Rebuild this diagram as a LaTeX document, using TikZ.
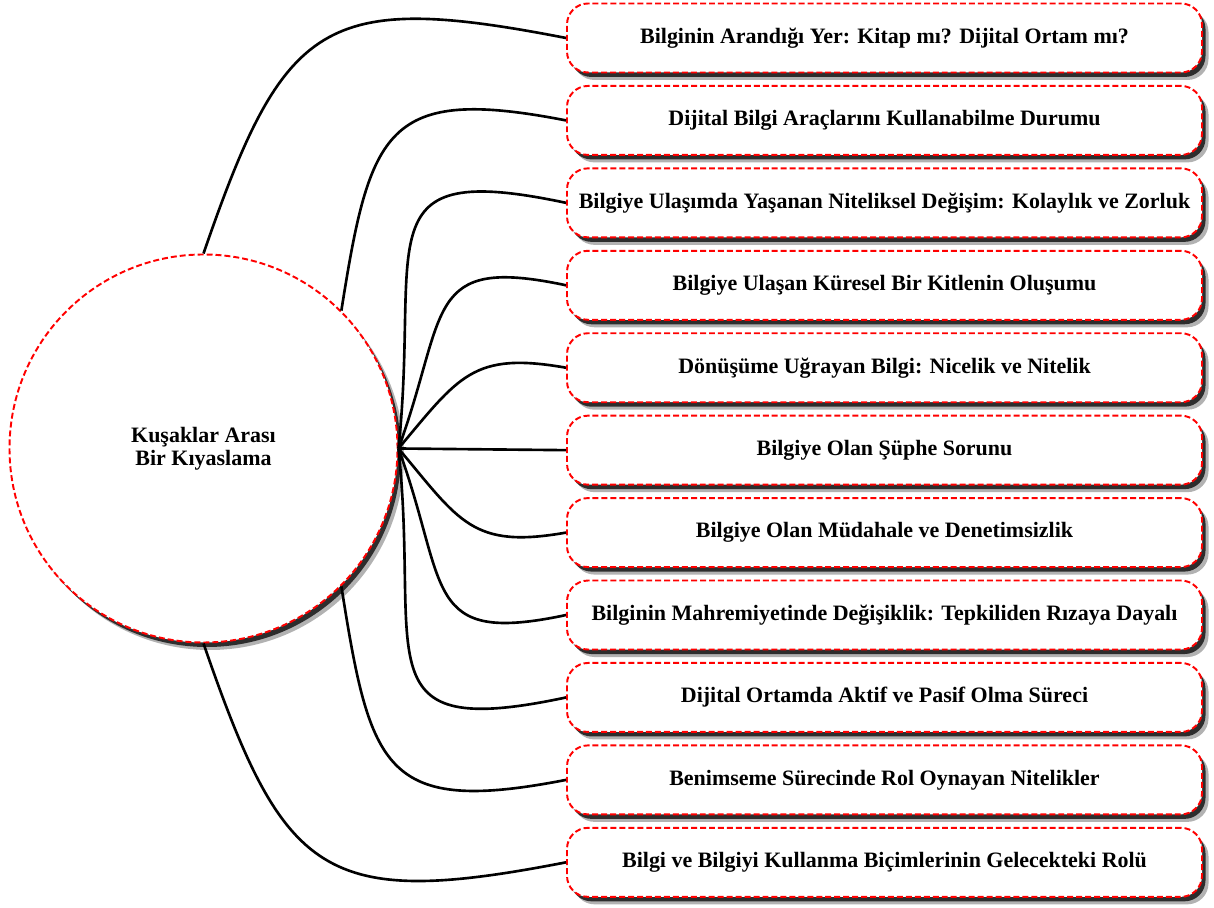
\documentclass[tikz,border=0pt]{standalone}
\usepackage{fontspec}
\setmainfont{Liberation Serif}
\usetikzlibrary{positioning,shadows}

\tikzset{
    softshadow/.style={
        drop shadow={shadow xshift=0.13cm, shadow yshift=-0.15cm, opacity=0.3, fill=black},
        drop shadow={shadow xshift=0.07cm, shadow yshift=-0.09cm, opacity=0.75, fill=black}
    }
}

\begin{document}
\begin{tikzpicture}[
        node distance=0.23cm,
        topic/.style={rectangle, draw=red, line width=1.1pt, dash pattern=on 3.4pt off 1.7pt, rounded corners=0.42cm, fill=white, minimum width=12.7cm, minimum height=1.38cm, text centered, font=\bfseries\fontsize{12.5}{15}\selectfont, softshadow},
        hub/.style={circle, draw=red, line width=1.1pt, dash pattern=on 3.4pt off 1.7pt, fill=white, minimum size=7.76cm, align=center, font=\bfseries\fontsize{12.5}{13}\selectfont, softshadow},
        link/.style={line width=1.5pt}
    ]
        \useasboundingbox (0,0) rectangle (24.28,18.16);

        % Center circle
        \node[hub] (kiyas) at (4.07,9.19) {Kuşaklar Arası\\ Bir Kıyaslama};

        % Topic boxes
        \node[topic] (kitap) at (17.69,17.4) {Bilginin Arandığı Yer: Kitap mı? Dijital Ortam mı?};
        \node[topic, below=of kitap] (araclar) {Dijital Bilgi Araçlarını Kullanabilme Durumu};
        \node[topic, below=of araclar] (nitelik) {Bilgiye Ulaşımda Yaşanan Niteliksel Değişim: Kolaylık ve Zorluk};
        \node[topic, below=of nitelik] (kitle) {Bilgiye Ulaşan Küresel Bir Kitlenin Oluşumu};
        \node[topic, below=of kitle] (donusum) {Dönüşüme Uğrayan Bilgi: Nicelik ve Nitelik};
        \node[topic, below=of donusum] (suphe) {Bilgiye Olan Şüphe Sorunu};
        \node[topic, below=of suphe] (mudahale) {Bilgiye Olan Müdahale ve Denetimsizlik};
        \node[topic, below=of mudahale] (mahremiyet) {Bilginin Mahremiyetinde Değişiklik: Tepkiliden Rızaya Dayalı};
        \node[topic, below=of mahremiyet] (aktif) {Dijital Ortamda Aktif ve Pasif Olma Süreci};
        \node[topic, below=of aktif] (benimseme) {Benimseme Sürecinde Rol Oynayan Nitelikler};
        \node[topic, below=of benimseme] (gelecek) {Bilgi ve Bilgiyi Kullanma Biçimlerinin Gelecekteki Rolü};

        % Connectors, upper half
        \draw[link] (kiyas.north) to[out=71, in=169, looseness=1.5] (kitap.west);
        \draw[link] (kiyas.45) to[out=81, in=169, looseness=1.6] (araclar.west);
        \draw[link] (kiyas.east) to[out=84, in=168, looseness=1.8] (nitelik.west);
        \draw[link] (kiyas.east) to[out=70, in=168, looseness=1.6] (kitle.west);
        \draw[link] (kiyas.east) to[out=50, in=170, looseness=1.3] (donusum.west);
        \draw[link] (kiyas.east) -- (suphe.west);

        % Connectors, lower half
        \draw[link] (kiyas.east) to[out=-50, in=190, looseness=1.3] (mudahale.west);
        \draw[link] (kiyas.east) to[out=-70, in=192, looseness=1.6] (mahremiyet.west);
        \draw[link] (kiyas.east) to[out=-84, in=192, looseness=1.8] (aktif.west);
        \draw[link] (kiyas.-45) to[out=-81, in=191, looseness=1.6] (benimseme.west);
        \draw[link] (kiyas.south) to[out=-71, in=191, looseness=1.5] (gelecek.west);
    \end{tikzpicture}
\end{document}
